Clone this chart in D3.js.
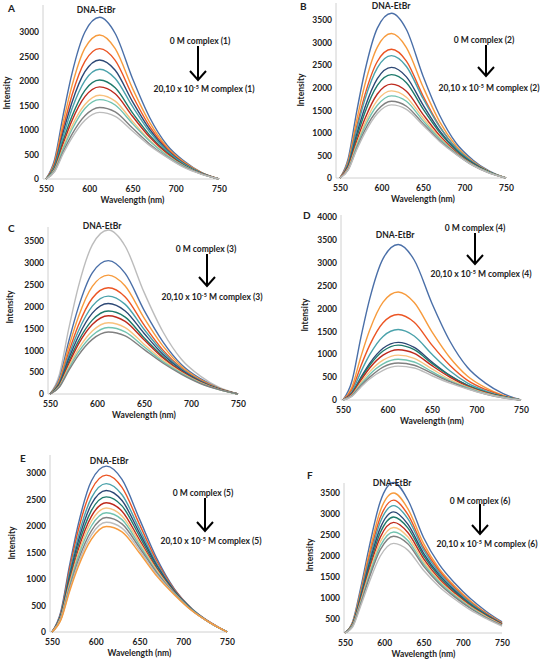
<!DOCTYPE html>
<html>
<head>
<meta charset="utf-8">
<script src="https://cdn.jsdelivr.net/npm/d3@7"></script>
<style>
  html, body { margin: 0; padding: 0; background: #fff; }
  svg { display: block; }
  text { font-family: Lato, "Open Sans", sans-serif; font-weight: bold; fill: #222; }
</style>
</head>
<body>
<svg id="chart" width="546" height="663"></svg>
<script>
// ---------- DATA ----------
const wavelengths = [550, 560, 570, 580, 595, 612, 630, 650, 670, 690, 710, 730, 750];
const xTicks = [550, 600, 650, 700, 750];
const panelLetters = ["A", "B", "C", "D", "E", "F"];
const complexNames = ["(1)", "(2)", "(3)", "(4)", "(5)", "(6)"];

const yTicksA = [0, 500, 1000, 1500, 2000, 2500, 3000];
const yTicksB = [0, 500, 1000, 1500, 2000, 2500, 3000, 3500];
const yTicksC = [0, 500, 1000, 1500, 2000, 2500, 3000, 3500];
const yTicksD = [0, 500, 1000, 1500, 2000, 2500, 3000, 3500, 4000];
const yTicksE = [0, 500, 1000, 1500, 2000, 2500, 3000];
const yTicksF = [500, 1000, 1500, 2000, 2500, 3000, 3500];

const seriesA = [
  [0,400,1320,2150,3000,3300,2970,2050,1250,690,360,130,0],
  [0,350,1170,1900,2670,2940,2660,1850,1150,650,340,130,0],
  [0,310,1050,1710,2400,2660,2420,1700,1070,620,320,120,0],
  [0,280,960,1560,2190,2430,2220,1580,1010,590,310,120,0],
  [0,260,880,1430,2010,2240,2050,1480,960,570,300,120,0],
  [0,230,790,1280,1810,2020,1860,1350,890,540,280,110,0],
  [0,210,730,1190,1680,1880,1740,1280,850,520,270,110,0],
  [0,190,660,1080,1520,1710,1590,1180,790,490,260,100,0],
  [0,180,620,1010,1440,1620,1510,1130,770,480,260,100,0],
  [0,160,560,910,1290,1460,1370,1040,710,450,240,100,0],
  [0,150,520,840,1200,1360,1280,980,680,440,230,95,0]
];
const seriesB = [
  [0,440,1460,2370,3320,3650,3290,2260,1390,770,400,150,0],
  [0,380,1270,2070,2900,3200,2890,2020,1250,710,370,140,0],
  [0,340,1130,1840,2580,2850,2590,1820,1150,660,350,130,0],
  [0,320,1070,1740,2440,2710,2470,1760,1130,660,350,130,0],
  [0,280,960,1560,2200,2450,2240,1620,1050,620,330,130,0],
  [0,260,890,1450,2050,2290,2110,1530,1010,610,320,130,0],
  [0,240,810,1310,1860,2080,1920,1410,940,570,300,120,0],
  [0,220,740,1210,1720,1930,1790,1330,900,550,290,120,0],
  [0,200,700,1140,1610,1820,1700,1270,870,540,290,120,0],
  [0,190,650,1060,1500,1700,1590,1210,830,530,280,110,0],
  [0,180,620,1000,1430,1620,1520,1170,810,520,280,110,0]
];
const seriesC = [
  [0,450,1500,2440,3410,3750,3380,2330,1430,790,410,150,0],
  [0,360,1210,1970,2770,3050,2760,1920,1200,670,350,130,0],
  [0,320,1080,1750,2460,2720,2470,1740,1100,630,330,130,0],
  [0,280,960,1560,2190,2430,2220,1580,1010,590,310,120,0],
  [0,260,880,1430,2010,2240,2050,1480,960,570,300,120,0],
  [0,240,810,1310,1850,2070,1900,1390,910,550,290,110,0],
  [0,220,740,1200,1690,1900,1760,1290,860,520,280,110,0],
  [0,200,690,1130,1590,1790,1660,1240,830,510,270,110,0],
  [0,180,630,1020,1440,1630,1520,1140,780,490,260,100,0],
  [0,170,580,950,1340,1520,1420,1080,740,470,250,100,0],
  [0,160,540,880,1250,1420,1330,1020,710,450,240,100,0]
];
const seriesD = [
  [0,410,1360,2210,3090,3400,3060,2110,1290,710,370,140,0],
  [0,280,940,1530,2140,2360,2130,1490,930,520,270,100,0],
  [0,220,740,1200,1690,1870,1700,1200,760,430,230,90,0],
  [0,180,610,990,1390,1540,1400,1000,640,370,200,80,0],
  [0,150,490,800,1130,1260,1150,830,540,320,170,70,0],
  [0,140,470,760,1070,1200,1100,800,530,320,170,70,0],
  [0,130,430,700,980,1100,1020,750,500,300,160,60,0],
  [0,110,380,620,870,980,910,680,450,280,150,60,0],
  [0,100,340,560,790,890,830,620,420,270,140,60,0],
  [0,90,310,500,720,810,760,580,400,250,130,50,0],
  [0,80,280,460,650,740,700,530,370,240,130,50,0]
];
const seriesE = [
  [0,380,1250,2030,2850,3130,2880,2130,1380,810,440,190,0],
  [0,350,1180,1920,2680,2960,2730,2030,1330,800,430,190,0],
  [0,330,1110,1800,2530,2800,2590,1940,1280,780,430,180,0],
  [0,310,1050,1710,2410,2670,2480,1870,1250,770,420,180,0],
  [0,300,1000,1630,2290,2550,2380,1810,1210,750,420,180,0],
  [0,280,950,1550,2180,2440,2280,1740,1180,740,410,180,0],
  [0,270,910,1480,2090,2340,2190,1690,1160,730,410,180,0],
  [0,250,870,1420,2000,2250,2120,1640,1130,730,410,180,0],
  [0,240,830,1350,1910,2160,2040,1590,1110,720,410,180,0],
  [0,230,790,1290,1830,2070,1960,1540,1080,710,400,180,0],
  [0,220,760,1230,1750,1990,1890,1490,1050,700,400,180,0]
];
const seriesF = [
  [170,450,1240,2140,3300,3750,3340,2440,1800,1350,980,680,430],
  [170,430,1160,2000,3080,3500,3130,2300,1700,1280,930,640,410],
  [170,410,1110,1900,2920,3330,2990,2210,1650,1240,900,630,400],
  [170,400,1080,1830,2810,3200,2890,2150,1600,1210,880,610,390],
  [170,390,1030,1750,2670,3050,2760,2070,1550,1170,850,600,380],
  [180,380,1000,1680,2560,2930,2670,2010,1510,1140,840,590,380],
  [170,370,960,1610,2450,2800,2560,1940,1460,1110,810,570,370],
  [170,360,920,1550,2340,2680,2460,1870,1420,1080,790,560,360],
  [170,350,890,1490,2240,2570,2370,1810,1380,1050,770,540,350],
  [180,340,860,1430,2150,2470,2290,1760,1340,1020,750,530,350],
  [170,320,810,1330,2000,2300,2140,1660,1270,970,710,510,330]
];

const colorsA = ["blue","orange","redorange","navy","teal","darkteal","darkred","lightorange","mint","gray","silver"];
const colorsB = ["blue","orange","redorange","teal","navy","darkteal","darkred","lightorange","mint","gray","silver"];
const colorsC = ["silver","blue","orange","redorange","teal","navy","darkteal","darkred","lightorange","mint","gray"];
const colorsD = ["blue","orange","redorange","teal","navy","darkteal","darkred","lightorange","mint","gray","silver"];
const colorsE = ["blue","redorange","teal","navy","darkteal","darkred","lightorange","mint","gray","silver","orange"];
const colorsF = ["blue","orange","redorange","teal","navy","darkteal","darkred","lightorange","mint","gray","silver"];

// ---------- STYLE / LAYOUT ----------
const palette = {
  blue: "#4a6fa8", orange: "#f79b3d", redorange: "#ec5524", navy: "#2d4875",
  teal: "#4aa2ab", darkteal: "#1e7a6b", darkred: "#be2a1d", lightorange: "#f9c27e",
  mint: "#72c3b0", gray: "#808080", silver: "#bcbcbc"
};

const layouts = [
  { x0: 46, x1: 219, axisX: 43, axisTop: 5,  yDom: [0, 3500], yR: [179, 7.5],
    letter: [8, 12], dna: [96, 10], top: [200, 41], arrow: [198, 46, 80], bot: [204, 89], ylab: [7, 93] },
  { x0: 340, x1: 506, axisX: 336, axisTop: 3, yDom: [0, 4000], yR: [178, -2.6],
    letter: [300, 10], dna: [391, 6], top: [484, 40], arrow: [486, 45, 76], bot: [489, 88], ylab: [301, 90] },
  { x0: 50, x1: 238, axisX: 48, axisTop: 227, yDom: [0, 3500], yR: [394, 241],
    letter: [8, 232], dna: [102, 226], top: [206, 249], arrow: [207, 254, 286], bot: [212, 297], ylab: [10, 307] },
  { x0: 343, x1: 521, axisX: 341, axisTop: 215, yDom: [0, 4000], yR: [400, 217],
    letter: [303, 219], dna: [395, 235], top: [475, 228], arrow: [475, 233, 264], bot: [481, 274], ylab: [305, 315] },
  { x0: 52, x1: 227, axisX: 50, axisTop: 455, yDom: [0, 3000], yR: [632, 473],
    letter: [20, 462], dna: [109, 461], top: [203, 493], arrow: [205, 498, 531], bot: [211, 541], ylab: [12, 543] },
  { x0: 345, x1: 502, axisX: 344, axisTop: 483, yDom: [167, 3500], yR: [633, 493],
    letter: [307, 479], dna: [392, 483], top: [480, 501], arrow: [480, 504, 534], bot: [487, 544], ylab: [310, 555] }
];

const panelData = [
  [seriesA, colorsA, yTicksA], [seriesB, colorsB, yTicksB], [seriesC, colorsC, yTicksC],
  [seriesD, colorsD, yTicksD], [seriesE, colorsE, yTicksE], [seriesF, colorsF, yTicksF]
];

const svg = d3.select("#chart");
const FS = 8.5;

panelData.forEach(([series, colors, yTicks], i) => {
  const L = layouts[i];
  const g = svg.append("g");
  const x = d3.scaleLinear().domain([550, 750]).range([L.x0, L.x1]);
  const y = d3.scaleLinear().domain(L.yDom).range(L.yR);
  const yBase = y(L.yDom[0]);

  // axis lines
  g.append("line").attr("x1", L.axisX).attr("x2", L.axisX)
    .attr("y1", L.axisTop).attr("y2", yBase)
    .attr("stroke", "#d0d0d0").attr("stroke-width", 1);
  g.append("line").attr("x1", L.axisX).attr("x2", x(750))
    .attr("y1", yBase).attr("y2", yBase)
    .attr("stroke", "#d0d0d0").attr("stroke-width", 1);

  // y tick labels
  const ya = g.append("g").attr("transform", `translate(${L.axisX},0)`)
    .call(d3.axisLeft(y).tickValues(yTicks).tickSize(0).tickPadding(4).tickFormat(d3.format("d")));
  ya.select(".domain").remove();
  ya.selectAll("text").attr("font-size", FS).attr("font-family", "Lato, sans-serif").attr("font-weight", "bold").attr("fill", "#222");

  // x tick labels
  const xa = g.append("g").attr("transform", `translate(0,${yBase})`)
    .call(d3.axisBottom(x).tickValues(xTicks).tickSize(0).tickPadding(7).tickFormat(d3.format("d")));
  xa.select(".domain").remove();
  xa.selectAll("text").attr("font-size", FS).attr("font-family", "Lato, sans-serif").attr("font-weight", "bold").attr("fill", "#222");

  // curves
  const line = d3.line().x((d, k) => x(wavelengths[k])).y(d => y(d)).curve(d3.curveMonotoneX);
  series.forEach((s, k) => {
    g.append("path").attr("d", line(s)).attr("fill", "none")
      .attr("stroke", palette[colors[k]]).attr("stroke-width", 1.4);
  });

  // axis titles
  g.append("text").attr("x", (L.x0 + L.x1) / 2).attr("y", yBase + 24)
    .attr("text-anchor", "middle").attr("font-size", FS).text("Wavelength (nm)");
  g.append("text").attr("transform", `translate(${L.ylab[0] + 3},${L.ylab[1]}) rotate(-90)`)
    .attr("text-anchor", "middle").attr("font-size", FS).text("Intensity");

  // letter
  g.append("text").attr("x", L.letter[0]).attr("y", L.letter[1])
    .attr("font-size", 10).text(panelLetters[i]);

  // DNA-EtBr
  g.append("text").attr("x", L.dna[0]).attr("y", L.dna[1] + 3)
    .attr("text-anchor", "middle").attr("font-size", FS).text("DNA-EtBr");

  // 0 M complex
  g.append("text").attr("x", L.top[0]).attr("y", L.top[1] + 3)
    .attr("text-anchor", "middle").attr("font-size", FS).text("0 M complex  " + complexNames[i]);

  // arrow
  const [ax, ay1, ay2] = L.arrow;
  g.append("line").attr("x1", ax).attr("x2", ax).attr("y1", ay1).attr("y2", ay2)
    .attr("stroke", "#000").attr("stroke-width", 2);
  g.append("path").attr("d", `M${ax - 8},${ay2 - 9} L${ax},${ay2} L${ax + 8},${ay2 - 9}`)
    .attr("fill", "none").attr("stroke", "#000").attr("stroke-width", 2);

  // 20,10 x 10^-5 M complex
  const t = g.append("text").attr("x", L.bot[0]).attr("y", L.bot[1] + 3)
    .attr("text-anchor", "middle").attr("font-size", FS);
  t.append("tspan").text("20,10 x 10");
  t.append("tspan").attr("font-size", 5.5).attr("dy", -3.5).text("-5");
  t.append("tspan").attr("dy", 3.5).text(" M  complex " + complexNames[i]);
});
</script>
</body>
</html>
